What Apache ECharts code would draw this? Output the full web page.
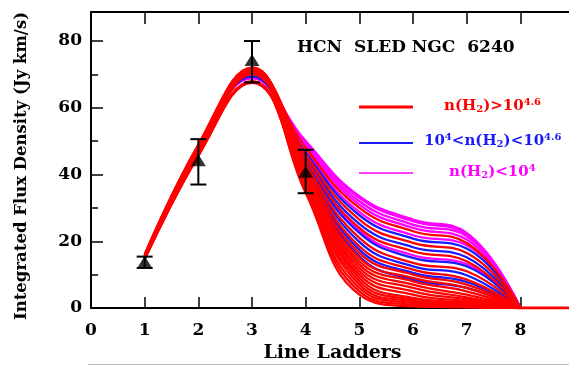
<!DOCTYPE html>
<html>
<head>
<meta charset="utf-8">
<script src="https://cdn.jsdelivr.net/npm/echarts@6/dist/echarts.min.js"></script>
<style>
html,body{margin:0;padding:0;background:#fff;overflow:hidden;}
#c{width:569px;height:366px;}
</style>
</head>
<body>
<div id="c"></div>
<script>
// Line ladders (J upper level) of the model curves
const ladder = [1, 2, 3, 4, 5, 6, 7, 8];
const tailLadder = [8, 9];
const tailFlux = [0, 0];
const xTicks = [0, 1, 2, 3, 4, 5, 6, 7, 8, 9];
const yTicks = [0, 20, 40, 60, 80];

// Observed HCN fluxes with error bars
const obsX = [1, 2, 3, 4];
const obsFlux = [13.8, 44.3, 74.3, 40.8];
const obsLow = [12.0, 37.0, 67.6, 34.4];
const obsHigh = [15.4, 50.6, 80.0, 47.4];

// Model curves, n(H2) > 10^4.6 (red)
const redCurves = [
  [15.5, 47.5, 71.0, 34.5, 4.0, 0.5, 0.2, 0],
  [15.0, 46.5, 70.5, 35.0, 5.0, 1.0, 0.4, 0],
  [16.0, 48.8, 72.0, 35.5, 6.0, 1.5, 0.6, 0],
  [14.6, 45.8, 70.0, 36.0, 7.0, 2.0, 0.9, 0],
  [15.5, 47.8, 71.5, 36.5, 8.0, 2.5, 1.2, 0],
  [15.0, 46.2, 68.0, 37.0, 9.0, 3.0, 1.6, 0],
  [15.8, 48.5, 72.0, 37.5, 10.0, 4.0, 2.0, 0],
  [14.5, 45.5, 67.5, 38.0, 11.0, 5.0, 2.6, 0],
  [15.4, 47.6, 71.0, 38.5, 12.0, 6.0, 3.2, 0],
  [15.2, 47.0, 70.5, 39.0, 13.0, 7.0, 4.0, 0],
  [16.0, 49.0, 71.8, 39.5, 14.0, 8.0, 5.0, 0],
  [15.0, 46.8, 70.8, 40.0, 15.0, 9.0, 6.0, 0],
  [15.3, 47.4, 71.2, 41.0, 16.5, 10.0, 7.0, 0],
  [15.2, 47.5, 71.0, 42.0, 18.5, 11.5, 8.5, 0],
  [15.2, 47.5, 71.2, 43.0, 21.0, 13.5, 11.0, 0],
  [15.3, 47.5, 71.0, 44.5, 24.0, 17.0, 14.0, 0],
  [15.4, 47.6, 71.5, 46.0, 26.5, 19.5, 16.5, 0],
  [15.3, 47.5, 71.5, 48.0, 30.0, 23.0, 19.5, 0]
];

// Model curves, 10^4 < n(H2) < 10^4.6 (blue)
const blueCurves = [
  [15.2, 47.2, 69.5, 40.5, 15.5, 8.5, 6.0, 0],
  [15.2, 47.2, 69.5, 41.5, 17.5, 10.5, 7.8, 0],
  [15.2, 47.2, 69.5, 42.5, 19.8, 12.5, 9.8, 0],
  [15.2, 47.2, 69.5, 43.5, 22.5, 15.0, 12.5, 0],
  [15.2, 47.2, 69.5, 45.0, 25.2, 18.2, 15.2, 0],
  [15.2, 47.2, 69.5, 46.5, 27.8, 20.8, 17.8, 0]
];

// Model curves, n(H2) < 10^4 (magenta)
const magentaCurves = [
  [15.2, 47.0, 69.0, 44.0, 23.2, 15.8, 13.2, 0],
  [15.2, 47.0, 69.0, 47.0, 28.8, 21.8, 18.8, 0],
  [15.2, 47.0, 69.0, 48.5, 31.0, 24.0, 20.5, 0],
  [15.2, 47.0, 69.0, 49.0, 32.0, 25.0, 21.5, 0],
  [15.2, 47.0, 69.0, 49.5, 33.0, 26.0, 22.0, 0],
  [15.2, 47.0, 69.0, 50.0, 33.5, 26.5, 22.5, 0]
];

const FONT = 'DejaVu Serif';
const chart = echarts.init(document.getElementById('c'), null, {renderer: 'canvas'});

function curveSeries(xs, vals, color, width) {
  return {
    type: 'line',
    data: xs.map((x, i) => [x, vals[i]]),
    smooth: 0.45,
    showSymbol: false,
    symbol: 'none',
    silent: true,
    clip: true,
    lineStyle: {color: color, width: width},
    z: 2
  };
}

const series = [];
magentaCurves.forEach(v => series.push(curveSeries(ladder, v, '#ff00ff', 2.3)));
blueCurves.forEach(v => series.push(curveSeries(ladder, v, '#1a1aff', 2.3)));
redCurves.forEach(v => series.push(curveSeries(ladder, v, '#ff0000', 2.3)));
series.push(curveSeries(tailLadder, tailFlux, '#ff0000', 3));

series.push({
  type: 'custom',
  z: 5,
  data: obsX.map((x, i) => [x, obsLow[i], obsHigh[i]]),
  renderItem: function (params, api) {
    const x = api.value(0);
    const pLo = api.coord([x, api.value(1)]);
    const pHi = api.coord([x, api.value(2)]);
    const hw = 8;
    const st = {stroke: '#000', lineWidth: 2};
    return {
      type: 'group',
      children: [
        {type: 'line', shape: {x1: pLo[0], y1: pLo[1], x2: pHi[0], y2: pHi[1]}, style: st},
        {type: 'line', shape: {x1: pLo[0] - hw, y1: pLo[1], x2: pLo[0] + hw, y2: pLo[1]}, style: st},
        {type: 'line', shape: {x1: pHi[0] - hw, y1: pHi[1], x2: pHi[0] + hw, y2: pHi[1]}, style: st}
      ]
    };
  }
});
series.push({
  type: 'scatter',
  z: 6,
  symbol: 'triangle',
  symbolSize: [15, 12],
  itemStyle: {color: '#000'},
  data: obsX.map((x, i) => [x, obsFlux[i]])
});

const axisFont = {fontFamily: FONT, fontWeight: 'bold', fontSize: 17, color: '#000'};

function richFor(color) {
  return {
    b: {fontFamily: FONT, fontWeight: 'bold', fontSize: 15, fill: color, lineHeight: 20, verticalAlign: 'middle'},
    s: {fontFamily: FONT, fontWeight: 'bold', fontSize: 10, fill: color, lineHeight: 20, verticalAlign: 'bottom', padding: [0, 0, 2, 0]},
    p: {fontFamily: FONT, fontWeight: 'bold', fontSize: 10, fill: color, lineHeight: 20, verticalAlign: 'top', padding: [1, 0, 0, 0]}
  };
}

chart.setOption({
  animation: false,
  backgroundColor: '#fff',
  grid: {left: 91, right: -5, top: 12, bottom: 58, containLabel: false, outerBoundsMode: 'none'},
  title: {
    text: 'HCN  SLED NGC  6240',
    left: 297, top: 39, padding: 0,
    textStyle: {fontFamily: FONT, fontWeight: 'bold', fontSize: 17, color: '#000'}
  },
  xAxis: [{
    type: 'value', min: 0, max: 9, interval: 1,
    name: 'Line Ladders', nameLocation: 'middle', nameGap: 36,
    nameTextStyle: {fontFamily: FONT, fontWeight: 'bold', fontSize: 19, color: '#000'},
    axisLine: {show: true, onZero: false, lineStyle: {color: '#000', width: 2}},
    axisTick: {show: true, inside: true, length: 11, lineStyle: {color: '#000', width: 1.5}},
    axisLabel: Object.assign({margin: 14, formatter: v => xTicks.includes(v) ? String(v) : ''}, axisFont),
    splitLine: {show: false}
  }, {
    type: 'value', min: 0, max: 9, interval: 1, position: 'top',
    axisLine: {show: true, onZero: false, lineStyle: {color: '#000', width: 2}},
    axisTick: {show: true, inside: true, length: 12, lineStyle: {color: '#000', width: 1.5}},
    axisLabel: {show: false},
    splitLine: {show: false}
  }],
  yAxis: {
    type: 'value', min: 0, max: 88.7, interval: 20,
    axisLine: {show: true, onZero: false, lineStyle: {color: '#000', width: 2}},
    axisTick: {show: true, inside: true, length: 12, lineStyle: {color: '#000', width: 1.5}},
    minorTick: {show: true, splitNumber: 2, length: 7, lineStyle: {color: '#000', width: 1.5}},
    axisLabel: Object.assign({margin: 9, showMaxLabel: false, formatter: v => yTicks.includes(v) ? String(v) : ''}, axisFont),
    splitLine: {show: false}
  },
  graphic: [
    {type: 'text', x: 22, y: 166, rotation: Math.PI / 2, style: {
      text: 'Integrated Flux Density (Jy km/s)', align: 'center', verticalAlign: 'middle',
      font: 'bold 16.5px "DejaVu Serif"', fill: '#000'}},
    {type: 'line', shape: {x1: 359, y1: 107, x2: 413, y2: 107}, style: {stroke: '#ff0000', lineWidth: 3}},
    {type: 'line', shape: {x1: 359, y1: 143, x2: 413, y2: 143}, style: {stroke: '#1a1aff', lineWidth: 2}},
    {type: 'line', shape: {x1: 359, y1: 173, x2: 413, y2: 173}, style: {stroke: '#ff00ff', lineWidth: 1.5}},
    {type: 'text', left: 444, top: 96, style: {text: '{b|n(H}{s|2}{b|)>10}{p|4.6}', rich: richFor('#ff0000')}},
    {type: 'text', left: 424, top: 131, style: {text: '{b|10}{p|4}{b|<n(H}{s|2}{b|)<10}{p|4.6}', rich: richFor('#1a1aff')}},
    {type: 'text', left: 449, top: 162, style: {text: '{b|n(H}{s|2}{b|)<10}{p|4}', rich: richFor('#ff00ff')}},
    {type: 'line', shape: {x1: 88, y1: 364.5, x2: 569, y2: 364.5}, style: {stroke: '#bbbbbb', lineWidth: 1}}
  ],
  series: series
});
</script>
</body>
</html>
